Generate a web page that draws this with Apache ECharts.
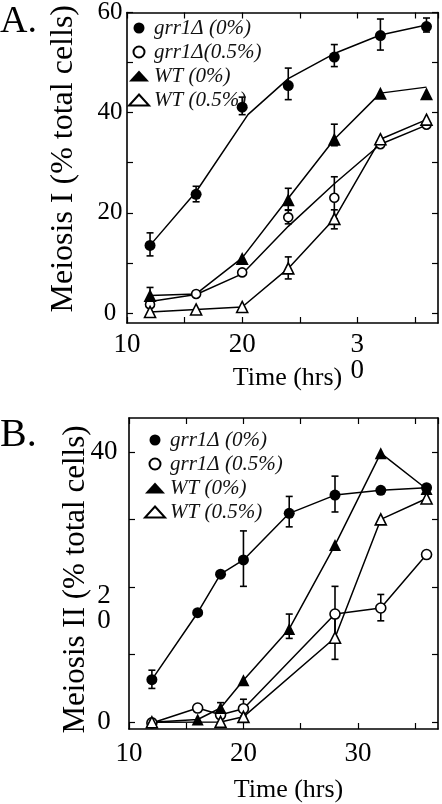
<!DOCTYPE html>
<html>
<head>
<meta charset="utf-8">
<script src="https://cdn.jsdelivr.net/npm/echarts@6/dist/echarts.min.js"></script>
<style>html,body{margin:0;padding:0;background:#fff;}#c{width:442px;height:804px;}</style>
</head>
<body>
<div id="c"></div>
<script>
// ---------- Panel A data (Meiosis I) ----------
const xA = [12, 16, 20, 24, 28, 32, 36];
const aGrr0 = [13.5, 23.7, 41.1, 45.4, 51.1, 55.4, 57.2];
const aGrr0LineX = [12, 16, 20.5, 24, 28, 32, 36];
const aGrr0Line = [13.5, 24.2, 39.6, 46.8, 51.8, 55.5, 57.5];
const aGrr0Lo = [11.4, 22.2, 39.6, 42.6, 49.2, 52.5, 56.1];
const aGrr0Hi = [16.0, 25.3, 43.1, 48.9, 53.6, 58.7, 58.9];
const aGrr05 = [1.7, 3.8, 8.1, 19.1, 23.0, 33.7, 37.6];
const aGrr05Line = [2.3, 3.7, 7.8, 17.3, 25.8, 33.7, 37.5];
const aGrr05Lo = [null, null, null, 17.8, 18.8, null, null];
const aGrr05Hi = [null, null, null, 20.6, 27.2, null, null];
const aWt0 = [3.5, null, 10.9, 22.6, 34.7, 43.9, 43.8];
const aWt0Line = [3.5, 3.8, 11.0, 22.9, 34.7, 43.9, 45.1];
const aWt0Lo = [1.9, null, null, 20.5, 33.4, null, null];
const aWt0Hi = [5.1, null, null, 24.9, 37.7, null, null];
const aWt05 = [0.2, 0.7, 1.2, 8.9, 18.8, 34.7, 38.6];
const aWt05Lo = [null, null, null, 6.8, 16.8, null, null];
const aWt05Hi = [null, null, null, 11.2, 20.6, null, null];
const aNames = ['grr1Δ (0%)', 'grr1Δ(0.5%)', 'WT (0%)', 'WT (0.5%)'];

// ---------- Panel B data (Meiosis II) ----------
const xB = [12, 16, 18, 20, 24, 28, 32, 36];
const bGrr0 = [6.3, 16.2, 21.9, 24.0, 30.9, 33.6, 34.3, 34.7];
const bGrr0Lo = [5.0, null, null, 20.1, 28.9, 31.1, null, null];
const bGrr0Hi = [7.7, null, null, 28.3, 33.4, 36.4, null, null];
const bGrr05 = [-0.1, 2.1, 1.1, 2.0, null, 16.0, 16.9, 24.8];
const bGrr05Lo = [null, null, null, 0.9, null, 12.0, 15.0, null];
const bGrr05Hi = [null, null, null, 3.4, null, 20.1, 18.9, null];
const bWt0 = [0, 0.4, 2.1, 6.2, 13.8, 26.2, 39.8, 34.5];
const bWt0Lo = [null, null, 1.1, null, 12.4, null, null, null];
const bWt0Hi = [null, null, 2.9, null, 16.0, null, null, null];
const bWt05 = [0, null, 0.05, 0.8, null, 12.5, 30.0, 33.1];
const bWt05Lo = [null, null, null, null, null, 9.3, null, null];
const bWt05Hi = [null, null, null, null, null, 15.5, null, null];
const bNames = ['grr1Δ (0%)', 'grr1Δ (0.5%)', 'WT (0%)', 'WT (0.5%)'];

// ---------- Axis ticks / labels ----------
const xLabelsA = {10: '10', 20: '20', 30: '3\n0'};
const xLabelsB = {10: '10', 20: '20', 30: '30'};
const yTicksA = [0, 10, 20, 30, 40, 50, 60];
const yLabelsA = {0: '0', 20: '20', 40: '40', 60: '60'};
const yTicksB = [0, 10, 20, 30, 40];
const yLabelsB = {0: '0', 20: '{t|2}\n{d|0}', 40: '40'};

const FONT = '"Liberation Serif", "Times New Roman", serif';
const pairs = (xs, ys) => xs.map((x, i) => [x, ys[i]]).filter(p => p[1] !== null);
const errs = (xs, lo, hi) => xs.map((x, i) => [x, lo[i], hi[i]]).filter(p => p[1] !== null);

function xAxes(grid, labels) {
  const base = {
    type: 'value', gridIndex: grid, min: 10, max: 37, interval: 5,
    splitLine: {show: false},
    axisLine: {show: true, onZero: false, lineStyle: {color: '#000', width: 1.6}},
    axisTick: {show: true, inside: true, length: 6, lineStyle: {color: '#000', width: 1.2}}
  };
  return [
    Object.assign({}, base, {position: 'bottom',
      axisLabel: {show: true, margin: grid === 0 ? 9 : 12, color: '#000', fontFamily: FONT, fontSize: 27,
        lineHeight: 26, verticalAlign: 'top', showMaxLabel: false,
        formatter: v => labels[v] || ''},
      name: 'Time (hrs)', nameLocation: 'middle', nameGap: grid === 0 ? 55 : 61, nameMoveOverlap: false,
      nameTextStyle: {fontFamily: FONT, fontSize: 26, color: '#000', verticalAlign: 'middle', padding: [0, 0, 0, 10]}
    }),
    Object.assign({}, base, {position: 'top', axisLabel: {show: false}})
  ];
}
function yAxes(grid, min, max, ticks, labels, name, gap, margin, pad, fs) {
  const lfs = grid === 0 ? 25 : 27;
  const base = {
    type: 'value', gridIndex: grid, min: min, max: max,
    splitLine: {show: false},
    axisLine: {show: true, onZero: false, lineStyle: {color: '#000', width: 1.6}},
    axisTick: {show: true, inside: true, length: 6, customValues: ticks, lineStyle: {color: '#000', width: 1.2}}
  };
  return [
    Object.assign({}, base, {position: 'left',
      axisLabel: {show: true, customValues: Object.keys(labels).map(Number), align: 'center', margin: margin,
        color: '#000', fontFamily: FONT, fontSize: lfs,
        rich: {
          t: {fontSize: lfs, lineHeight: 68, verticalAlign: 'bottom', fontFamily: FONT, color: '#000'},
          d: {fontSize: lfs, lineHeight: 24, fontFamily: FONT, color: '#000'}
        },
        formatter: v => labels[v] || ''},
      name: name, nameLocation: 'middle', nameRotate: 90, nameGap: gap, nameMoveOverlap: false,
      nameTextStyle: {fontFamily: FONT, fontSize: fs, color: '#000', verticalAlign: 'middle', padding: pad}
    }),
    Object.assign({}, base, {position: 'right', axisLabel: {show: false}})
  ];
}

function errSeries(data, xi, yi) {
  return {
    type: 'custom', xAxisIndex: xi, yAxisIndex: yi, data: data, silent: true, z: 3,
    encode: {x: 0, y: [1, 2]},
    renderItem: function (params, api) {
      const x = api.value(0), lo = api.value(1), hi = api.value(2);
      const p1 = api.coord([x, lo]), p2 = api.coord([x, hi]);
      const w = 3.5, st = {stroke: '#000', lineWidth: 1.6};
      return {type: 'group', children: [
        {type: 'line', shape: {x1: p1[0], y1: p1[1], x2: p2[0], y2: p2[1]}, style: st},
        {type: 'line', shape: {x1: p1[0] - w, y1: p1[1], x2: p1[0] + w, y2: p1[1]}, style: st},
        {type: 'line', shape: {x1: p2[0] - w, y1: p2[1], x2: p2[0] + w, y2: p2[1]}, style: st}
      ]};
    }
  };
}
function lineSeries(data, xi, yi) {
  return {type: 'line', xAxisIndex: xi, yAxisIndex: yi, data: data, showSymbol: false, silent: true,
    lineStyle: {color: '#000', width: 1.5}, itemStyle: {color: '#000'}, z: 2, animation: false};
}
function markSeries(name, data, xi, yi, symbol, open, size) {
  return {type: 'scatter', name: name, xAxisIndex: xi, yAxisIndex: yi, data: data, symbol: symbol,
    symbolSize: size, z: 5, animation: false,
    itemStyle: open ? {color: '#fff', borderColor: '#000', borderWidth: 1.6, opacity: 1}
                    : {color: '#000', borderColor: '#000', borderWidth: 0, opacity: 1}};
}

const series = [
  // Panel A
  lineSeries(pairs(aGrr0LineX, aGrr0Line), 0, 0),
  lineSeries(pairs(xA, aGrr05Line), 0, 0),
  lineSeries(pairs(xA, aWt0Line), 0, 0),
  lineSeries(pairs(xA, aWt05), 0, 0),
  errSeries(errs(xA, aGrr0Lo, aGrr0Hi), 0, 0),
  errSeries(errs(xA, aGrr05Lo, aGrr05Hi), 0, 0),
  errSeries(errs(xA, aWt0Lo, aWt0Hi), 0, 0),
  errSeries(errs(xA, aWt05Lo, aWt05Hi), 0, 0),
  markSeries(aNames[0], pairs(xA, aGrr0), 0, 0, 'circle', false, 11),
  markSeries(aNames[1], pairs(xA, aGrr05), 0, 0, 'circle', true, 9),
  markSeries(aNames[2], pairs(xA, aWt0), 0, 0, 'triangle', false, 13),
  markSeries(aNames[3], pairs(xA, aWt05), 0, 0, 'triangle', true, 11),
  // Panel B
  lineSeries(pairs(xB, bGrr0), 2, 2),
  lineSeries(pairs(xB, bGrr05), 2, 2),
  lineSeries(pairs(xB, bWt0), 2, 2),
  lineSeries(pairs(xB, bWt05), 2, 2),
  errSeries(errs(xB, bGrr0Lo, bGrr0Hi), 2, 2),
  errSeries(errs(xB, bGrr05Lo, bGrr05Hi), 2, 2),
  errSeries(errs(xB, bWt0Lo, bWt0Hi), 2, 2),
  errSeries(errs(xB, bWt05Lo, bWt05Hi), 2, 2),
  markSeries(bNames[0], pairs(xB, bGrr0), 2, 2, 'circle', false, 11),
  markSeries(bNames[1], pairs(xB, bGrr05), 2, 2, 'circle', true, 10),
  markSeries(bNames[2], pairs(xB, bWt0), 2, 2, 'triangle', false, 12),
  markSeries(bNames[3], pairs(xB, bWt05), 2, 2, 'triangle', true, 11)
];

const legendBase = {orient: 'vertical', itemWidth: 20, itemHeight: 11, itemGap: 2, padding: 0,
  symbolKeepAspect: true, selectedMode: false,
  textStyle: {fontFamily: FONT, fontStyle: 'italic', fontSize: 21, color: '#111', lineHeight: 22}};

const option = {
  backgroundColor: '#fff',
  animation: false,
  title: [
    {text: 'A.', left: 0, top: 3, padding: 0, textStyle: {fontFamily: FONT, fontSize: 38, fontWeight: 'normal', color: '#000'}},
    {text: 'B.', left: 0, top: 415, padding: 0, textStyle: {fontFamily: FONT, fontSize: 40, fontWeight: 'normal', color: '#000'}}
  ],
  grid: [
    {left: 127, top: 10, width: 311, height: 313},
    {left: 129, top: 418, width: 309, height: 311}
  ],
  xAxis: [].concat(xAxes(0, xLabelsA), xAxes(1, xLabelsB)),
  yAxis: [].concat(
    yAxes(0, -2, 60, yTicksA, yLabelsA, 'Meiosis I (% total cells)', 63, 17, [0, 0, 0, 18], 32),
    yAxes(1, -1, 45, yTicksB, yLabelsB, 'Meiosis II (% total cells)', 53, 25, [0, 12, 0, 0], 31)
  ),
  legend: [
    Object.assign({}, legendBase, {left: 128, top: 17, data: aNames}),
    Object.assign({}, legendBase, {left: 144, top: 429, data: bNames})
  ],
  series: series
};
const chart = echarts.init(document.getElementById('c'), null, {renderer: 'canvas'});
chart.setOption(option);
</script>
</body>
</html>
